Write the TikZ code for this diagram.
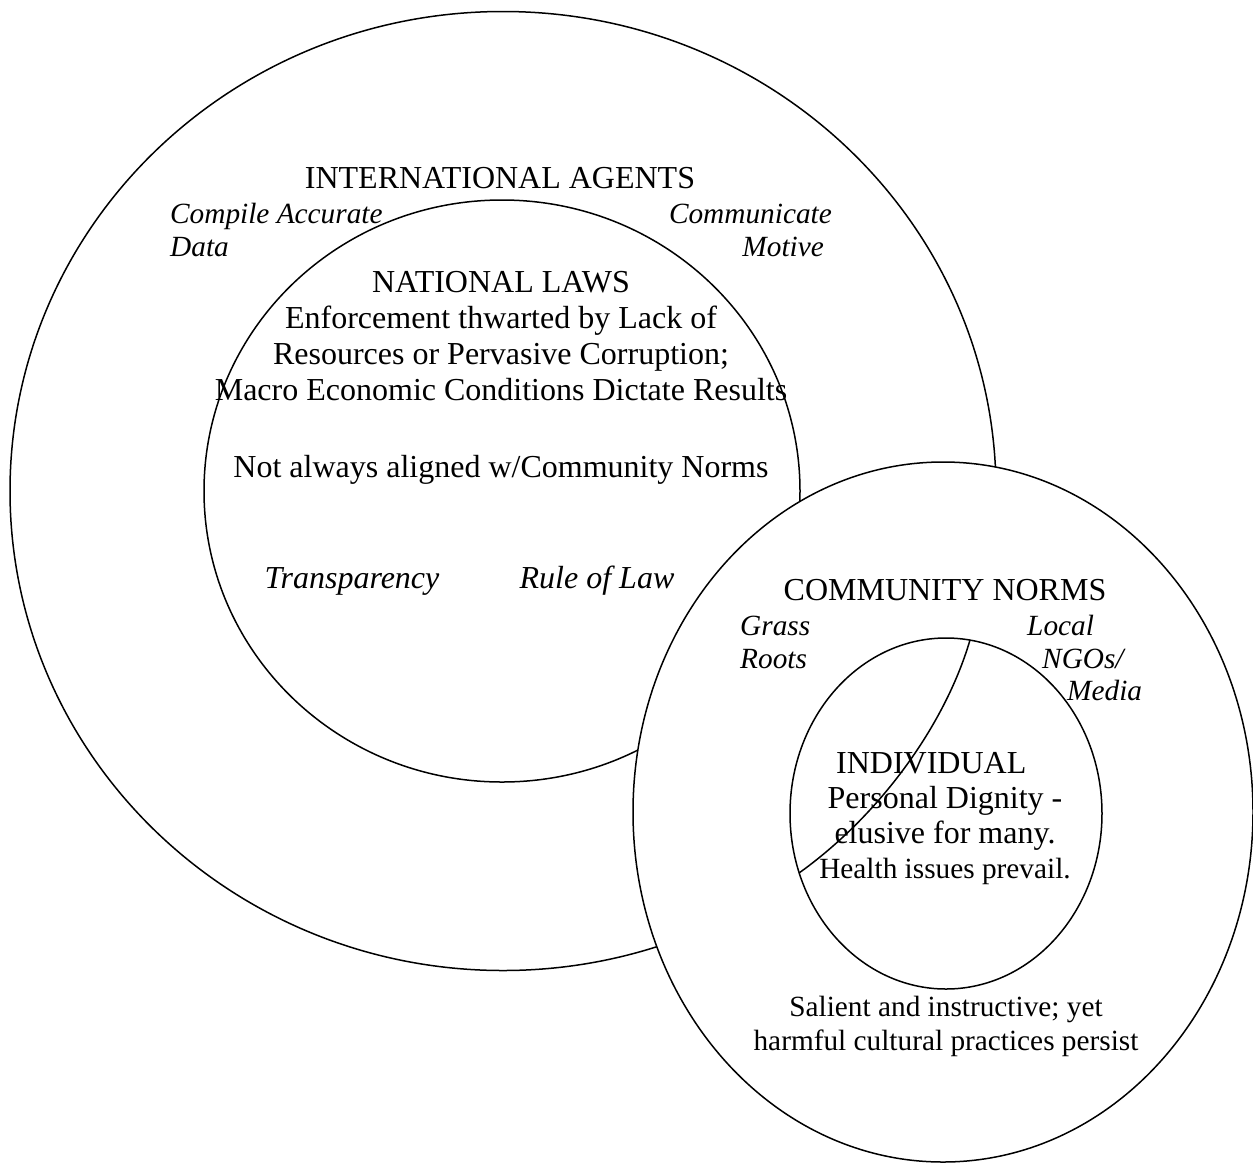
\documentclass[tikz,border=0pt]{standalone}
\usepackage{fontspec}
\setmainfont{Liberation Serif}
\usetikzlibrary{shapes.geometric}
\begin{document}
\begin{tikzpicture}[x=1pt,y=-1pt,
  ring/.style={draw, ellipse, line width=1.5pt, inner sep=0pt, outer sep=0pt},
  big/.style={font=\fontsize{32}{36}\selectfont, inner sep=0pt},
  bigit/.style={font=\fontsize{32}{36}\selectfont\itshape, inner sep=0pt},
  note/.style={font=\fontsize{29.3}{34}\selectfont\itshape, inner sep=0pt},
  plain/.style={font=\fontsize{29.3}{34}\selectfont, inner sep=0pt}]
\useasboundingbox (0,0) rectangle (1253,1163);

% nested spheres of influence
\node[ring, minimum width=986pt, minimum height=959pt] (intl) at (503,491) {};
\node[ring, minimum width=596pt, minimum height=582pt] (natl) at (502,491) {};
\node[ring, fill=white, minimum width=620pt, minimum height=700pt] (comm) at (943,812) {};
\node[ring, minimum width=312pt, minimum height=351pt] (indiv) at (946,813.5) {};

% seam crossing the individual sphere
\coordinate (seamTop) at (970,640);
\coordinate (seamLow) at (799,873);
\draw[line width=1.5pt] (seamTop) .. controls (945,725) and (880,815) .. (seamLow);

% international level
\node[big, anchor=base] (intlTitle) at (500,188) {INTERNATIONAL AGENTS};
\node[note, anchor=base west] (compile) at (170,223) {Compile Accurate};
\node[note, anchor=base west] (data) at (170,256) {Data};
\node[note, anchor=base east] (communicate) at (832,223) {Communicate};
\node[note, anchor=base east] (motive) at (824,256) {Motive};

% national level
\node[big, anchor=base] (natlTitle) at (501,292) {NATIONAL LAWS};
\node[big, anchor=base] (enforce) at (501,328) {Enforcement thwarted by Lack of};
\node[big, anchor=base] (resources) at (501,364) {Resources or Pervasive Corruption;};
\node[big, anchor=base] (macro) at (501,400) {Macro Economic Conditions Dictate Results};
\node[big, anchor=base] (notAligned) at (501,477) {Not always aligned w/Community Norms};
\node[bigit, anchor=base] (transparency) at (352,588) {Transparency};
\node[bigit, anchor=base] (ruleLaw) at (597,588) {Rule of Law};

% community level
\node[big, anchor=base] (commTitle) at (945,600) {COMMUNITY NORMS};
\node[note, anchor=base west] (grass) at (740,635) {Grass};
\node[note, anchor=base west] (roots) at (740,668) {Roots};
\node[note, anchor=base west] (local) at (1027,635) {Local};
\node[note, anchor=base west] (ngos) at (1042,668) {NGOs/};
\node[note, anchor=base west] (media) at (1067,700) {Media};
\node[plain, anchor=base] (salient) at (946,1016) {Salient and instructive; yet};
\node[plain, anchor=base] (harmful) at (946,1050) {harmful cultural practices persist};

% individual level
\node[big, anchor=base west] (indivTitle) at (836,773) {INDIVIDUAL};
\node[big, anchor=base] (dignity) at (945,808) {Personal Dignity -};
\node[big, anchor=base] (elusive) at (945,843) {elusive for many.};
\node[plain, anchor=base] (health) at (945,878) {Health issues prevail.};
\end{tikzpicture}
\end{document}
